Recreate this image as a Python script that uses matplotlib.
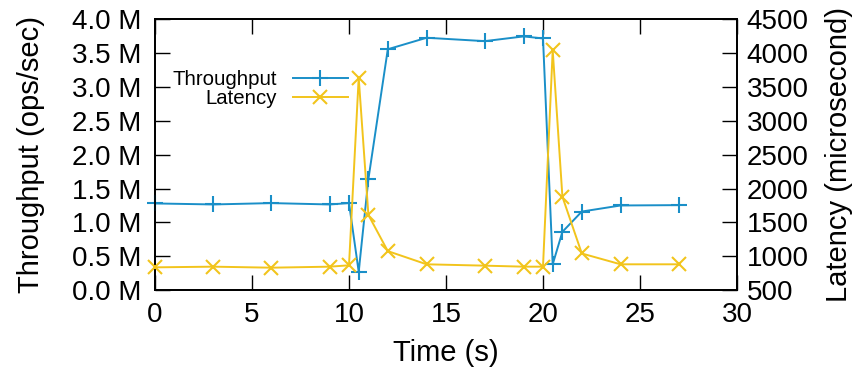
import matplotlib
matplotlib.use("Agg")
import matplotlib.pyplot as plt
from matplotlib.ticker import FuncFormatter

plt.rcParams['font.family'] = ['Liberation Sans', 'DejaVu Sans']

time_s = [0, 3, 6, 9, 10, 10.5, 11, 12, 14, 17, 19, 20, 20.5, 21, 22, 24, 27]
throughput_m = [1.28, 1.265, 1.285, 1.265, 1.285, 0.27, 1.64, 3.56, 3.73,
                3.68, 3.75, 3.72, 0.38, 0.86, 1.16, 1.25, 1.255]
latency_us = [835, 845, 830, 845, 865, 3640, 1610, 1075, 880,
              860, 845, 845, 4045, 1880, 1040, 880, 880]

x_ticks = [0, 5, 10, 15, 20, 25, 30]
y_ticks = [0.0, 0.5, 1.0, 1.5, 2.0, 2.5, 3.0, 3.5, 4.0]
y2_ticks = [500, 1000, 1500, 2000, 2500, 3000, 3500, 4000, 4500]

blue = '#1a8fc8'
yellow = '#f2c41c'

W, H = 853, 369
ax_l, ax_r, ax_t, ax_b = 155, 737, 19.5, 290
fig = plt.figure(figsize=(W/100, H/100), dpi=100)
ax = fig.add_axes([ax_l/W, (H-ax_b)/H, (ax_r-ax_l)/W, (ax_b-ax_t)/H])
ax2 = ax.twinx()

l1, = ax.plot(time_s, throughput_m, color=blue, lw=1.4, marker='+', ms=11, mew=1.5,
              label='Throughput', clip_on=False, zorder=3)
l2, = ax2.plot(time_s, latency_us, color=yellow, lw=1.4, marker='x', ms=10, mew=1.5,
               label='Latency', clip_on=False, zorder=3)

ax.set_xlim(0, 30)
ax.set_ylim(0, 4.0)
ax2.set_ylim(500, 4500)
ax.set_xticks(x_ticks)
ax.set_yticks(y_ticks)
ax2.set_yticks(y2_ticks)
ax.yaxis.set_major_formatter(FuncFormatter(lambda v, p: f"{v:.1f} M"))

fs = 20
ax.tick_params(axis='x', direction='in', length=11, width=1, top=True, labelsize=fs, pad=9)
ax.tick_params(axis='y', direction='in', length=11, width=1, labelsize=fs, pad=10)
ax2.tick_params(axis='y', direction='in', length=11, width=1, labelsize=fs, pad=7)
for a in (ax, ax2):
    for s in a.spines.values():
        s.set_linewidth(1.3)

axw, axh = ax_r - ax_l, ax_b - ax_t
ax.set_xlabel('Time (s)', fontsize=21)
ax.set_ylabel('Throughput (ops/sec)', fontsize=21)
ax2.set_ylabel('Latency (microsecond)', fontsize=21)
ax.xaxis.set_label_coords(0.5, (ax_b - 339) / axh)
ax.yaxis.set_label_coords((45 - ax_l) / axw, 0.5)
ax2.yaxis.set_label_coords((825 - ax_l) / axw, 0.5)

leg = fig.legend(handles=[l1, l2], loc='upper right', bbox_to_anchor=(348/W, 1 - 70/H),
                 bbox_transform=fig.transFigure, frameon=False, markerfirst=False,
                 fontsize=14.7, handlelength=2.7, handletextpad=0.8, labelspacing=0.02,
                 borderpad=0, borderaxespad=0)

fig.savefig('out.png', dpi=100)
